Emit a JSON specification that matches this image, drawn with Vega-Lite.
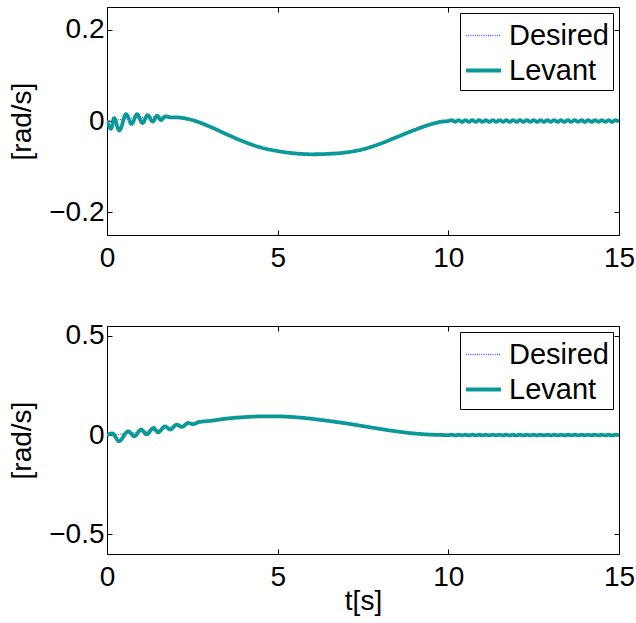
{
  "$schema": "https://vega.github.io/schema/vega-lite/v6.json",
  "background": "white",
  "padding": {"left": 8, "top": 6, "right": 2, "bottom": 2},
  "spacing": 48,
  "config": {
    "font": "Liberation Sans",
    "view": {"stroke": "black", "strokeWidth": 1},
    "axis": {"labelFontSize": 28, "titleFontSize": 28, "titleFontWeight": "normal", "labelColor": "black", "titleColor": "black", "domain": false, "grid": false, "tickColor": "black", "tickSize": -5, "tickWidth": 1, "labelFlush": false, "labelOverlap": false, "format": "~g"},
    "axisX": {"labelPadding": 14, "titlePadding": -4},
    "axisY": {"labelPadding": 8, "titlePadding": 12},
    "legend": {"orient": "none", "legendX": 353, "legendY": 6, "strokeColor": "black", "fillColor": "white", "padding": 4, "labelFontSize": 29, "labelColor": "black", "labelOffset": 6, "rowPadding": 0, "symbolSize": 1225, "symbolType": "stroke", "cornerRadius": 0, "labelLimit": 300}
  },
  "datasets": {
    "top": [
      {"t": 0, "v": 0, "s": "Desired"}, {"t": 0.5, "v": 0.004, "s": "Desired"}, {"t": 1, "v": 0.007, "s": "Desired"}, {"t": 1.5, "v": 0.009, "s": "Desired"}, {"t": 2, "v": 0.008, "s": "Desired"}, {"t": 2.5, "v": 0.002, "s": "Desired"}, {"t": 3, "v": -0.012, "s": "Desired"}, {"t": 3.5, "v": -0.029, "s": "Desired"}, {"t": 4, "v": -0.045, "s": "Desired"}, {"t": 4.5, "v": -0.058, "s": "Desired"}, {"t": 5, "v": -0.066, "s": "Desired"}, {"t": 5.5, "v": -0.071, "s": "Desired"}, {"t": 6, "v": -0.073, "s": "Desired"}, {"t": 6.5, "v": -0.072, "s": "Desired"}, {"t": 7, "v": -0.069, "s": "Desired"}, {"t": 7.5, "v": -0.062, "s": "Desired"}, {"t": 8, "v": -0.05, "s": "Desired"}, {"t": 8.5, "v": -0.035, "s": "Desired"}, {"t": 9, "v": -0.02, "s": "Desired"}, {"t": 9.5, "v": -0.007, "s": "Desired"}, {"t": 10, "v": 0, "s": "Desired"}, {"t": 15, "v": 0, "s": "Desired"},
      {"t": 0, "v": 0, "s": "Levant"}, {"t": 0.12, "v": -0.017, "s": "Levant"}, {"t": 0.21, "v": 0.0065, "s": "Levant"}, {"t": 0.36, "v": -0.021, "s": "Levant"}, {"t": 0.56, "v": 0.015, "s": "Levant"}, {"t": 0.72, "v": -0.0065, "s": "Levant"}, {"t": 0.88, "v": 0.015, "s": "Levant"}, {"t": 1.04, "v": -0.0045, "s": "Levant"}, {"t": 1.19, "v": 0.013, "s": "Levant"}, {"t": 1.34, "v": -0.0015, "s": "Levant"}, {"t": 1.47, "v": 0.0116, "s": "Levant"}, {"t": 1.58, "v": 0.002, "s": "Levant"}, {"t": 1.71, "v": 0.01, "s": "Levant"}, {"t": 1.875, "v": 0.008, "s": "Levant"}, {"t": 2, "v": 0.008, "s": "Levant"}, {"t": 2.5, "v": 0.002, "s": "Levant"}, {"t": 3, "v": -0.012, "s": "Levant"}, {"t": 3.5, "v": -0.029, "s": "Levant"}, {"t": 4, "v": -0.045, "s": "Levant"}, {"t": 4.5, "v": -0.058, "s": "Levant"}, {"t": 5, "v": -0.066, "s": "Levant"}, {"t": 5.5, "v": -0.071, "s": "Levant"}, {"t": 6, "v": -0.073, "s": "Levant"}, {"t": 6.5, "v": -0.072, "s": "Levant"}, {"t": 7, "v": -0.069, "s": "Levant"}, {"t": 7.5, "v": -0.062, "s": "Levant"}, {"t": 8, "v": -0.05, "s": "Levant"}, {"t": 8.5, "v": -0.035, "s": "Levant"}, {"t": 9, "v": -0.02, "s": "Levant"}, {"t": 9.5, "v": -0.007, "s": "Levant"}, {"t": 9.8, "v": -0.0015, "s": "Levant"}, {"t": 10, "v": 0, "s": "Levant"},
      {"t": 10.1, "v": 0.0018, "s": "Levant"}, {"t": 10.2, "v": -0.0018, "s": "Levant"}, {"t": 10.3, "v": 0.0018, "s": "Levant"}, {"t": 10.4, "v": -0.0018, "s": "Levant"}, {"t": 10.5, "v": 0.0018, "s": "Levant"}, {"t": 10.6, "v": -0.0018, "s": "Levant"}, {"t": 10.7, "v": 0.0018, "s": "Levant"}, {"t": 10.8, "v": -0.0018, "s": "Levant"}, {"t": 10.9, "v": 0.0018, "s": "Levant"}, {"t": 11.0, "v": -0.0018, "s": "Levant"},
      {"t": 11.1, "v": 0.0018, "s": "Levant"}, {"t": 11.2, "v": -0.0018, "s": "Levant"}, {"t": 11.3, "v": 0.0018, "s": "Levant"}, {"t": 11.4, "v": -0.0018, "s": "Levant"}, {"t": 11.5, "v": 0.0018, "s": "Levant"}, {"t": 11.6, "v": -0.0018, "s": "Levant"}, {"t": 11.7, "v": 0.0018, "s": "Levant"}, {"t": 11.8, "v": -0.0018, "s": "Levant"}, {"t": 11.9, "v": 0.0018, "s": "Levant"}, {"t": 12.0, "v": -0.0018, "s": "Levant"},
      {"t": 12.1, "v": 0.0018, "s": "Levant"}, {"t": 12.2, "v": -0.0018, "s": "Levant"}, {"t": 12.3, "v": 0.0018, "s": "Levant"}, {"t": 12.4, "v": -0.0018, "s": "Levant"}, {"t": 12.5, "v": 0.0018, "s": "Levant"}, {"t": 12.6, "v": -0.0018, "s": "Levant"}, {"t": 12.7, "v": 0.0018, "s": "Levant"}, {"t": 12.8, "v": -0.0018, "s": "Levant"}, {"t": 12.9, "v": 0.0018, "s": "Levant"}, {"t": 13.0, "v": -0.0018, "s": "Levant"},
      {"t": 13.1, "v": 0.0018, "s": "Levant"}, {"t": 13.2, "v": -0.0018, "s": "Levant"}, {"t": 13.3, "v": 0.0018, "s": "Levant"}, {"t": 13.4, "v": -0.0018, "s": "Levant"}, {"t": 13.5, "v": 0.0018, "s": "Levant"}, {"t": 13.6, "v": -0.0018, "s": "Levant"}, {"t": 13.7, "v": 0.0018, "s": "Levant"}, {"t": 13.8, "v": -0.0018, "s": "Levant"}, {"t": 13.9, "v": 0.0018, "s": "Levant"}, {"t": 14.0, "v": -0.0018, "s": "Levant"},
      {"t": 14.1, "v": 0.0018, "s": "Levant"}, {"t": 14.2, "v": -0.0018, "s": "Levant"}, {"t": 14.3, "v": 0.0018, "s": "Levant"}, {"t": 14.4, "v": -0.0018, "s": "Levant"}, {"t": 14.5, "v": 0.0018, "s": "Levant"}, {"t": 14.6, "v": -0.0018, "s": "Levant"}, {"t": 14.7, "v": 0.0018, "s": "Levant"}, {"t": 14.8, "v": -0.0018, "s": "Levant"}, {"t": 14.9, "v": 0.0018, "s": "Levant"}, {"t": 15.0, "v": -0.0018, "s": "Levant"}
    ],
    "bot": [
      {"t": 0, "v": 0, "s": "Desired"}, {"t": 0.5, "v": 0.006, "s": "Desired"}, {"t": 1, "v": 0.016, "s": "Desired"}, {"t": 1.5, "v": 0.026, "s": "Desired"}, {"t": 2, "v": 0.043, "s": "Desired"}, {"t": 2.5, "v": 0.058, "s": "Desired"}, {"t": 3, "v": 0.071, "s": "Desired"}, {"t": 3.5, "v": 0.083, "s": "Desired"}, {"t": 4, "v": 0.09, "s": "Desired"}, {"t": 4.5, "v": 0.094, "s": "Desired"}, {"t": 5, "v": 0.094, "s": "Desired"}, {"t": 5.5, "v": 0.09, "s": "Desired"}, {"t": 6, "v": 0.082, "s": "Desired"}, {"t": 6.5, "v": 0.071, "s": "Desired"}, {"t": 7, "v": 0.059, "s": "Desired"}, {"t": 7.5, "v": 0.045, "s": "Desired"}, {"t": 8, "v": 0.031, "s": "Desired"}, {"t": 8.5, "v": 0.018, "s": "Desired"}, {"t": 9, "v": 0.008, "s": "Desired"}, {"t": 9.5, "v": 0.002, "s": "Desired"}, {"t": 10, "v": 0, "s": "Desired"}, {"t": 15, "v": 0, "s": "Desired"},
      {"t": 0, "v": 0, "s": "Levant"}, {"t": 0.16, "v": 0.008, "s": "Levant"}, {"t": 0.35, "v": -0.031, "s": "Levant"}, {"t": 0.62, "v": 0.019, "s": "Levant"}, {"t": 0.8, "v": -0.006, "s": "Levant"}, {"t": 1.0, "v": 0.028, "s": "Levant"}, {"t": 1.16, "v": 0.003, "s": "Levant"}, {"t": 1.36, "v": 0.036, "s": "Levant"}, {"t": 1.5, "v": 0.014, "s": "Levant"}, {"t": 1.7, "v": 0.044, "s": "Levant"}, {"t": 1.85, "v": 0.028, "s": "Levant"}, {"t": 2.04, "v": 0.053, "s": "Levant"}, {"t": 2.19, "v": 0.041, "s": "Levant"}, {"t": 2.38, "v": 0.061, "s": "Levant"}, {"t": 2.52, "v": 0.055, "s": "Levant"}, {"t": 2.7, "v": 0.066, "s": "Levant"}, {"t": 3, "v": 0.071, "s": "Levant"}, {"t": 3.5, "v": 0.083, "s": "Levant"}, {"t": 4, "v": 0.09, "s": "Levant"}, {"t": 4.5, "v": 0.094, "s": "Levant"}, {"t": 5, "v": 0.094, "s": "Levant"}, {"t": 5.5, "v": 0.09, "s": "Levant"}, {"t": 6, "v": 0.082, "s": "Levant"}, {"t": 6.5, "v": 0.071, "s": "Levant"}, {"t": 7, "v": 0.059, "s": "Levant"}, {"t": 7.5, "v": 0.045, "s": "Levant"}, {"t": 8, "v": 0.031, "s": "Levant"}, {"t": 8.5, "v": 0.018, "s": "Levant"}, {"t": 9, "v": 0.008, "s": "Levant"}, {"t": 9.5, "v": 0.002, "s": "Levant"}, {"t": 10, "v": 0, "s": "Levant"},
      {"t": 10.1, "v": 0.0015, "s": "Levant"}, {"t": 10.2, "v": -0.0015, "s": "Levant"}, {"t": 10.3, "v": 0.0015, "s": "Levant"}, {"t": 10.4, "v": -0.0015, "s": "Levant"}, {"t": 10.5, "v": 0.0015, "s": "Levant"}, {"t": 10.6, "v": -0.0015, "s": "Levant"}, {"t": 10.7, "v": 0.0015, "s": "Levant"}, {"t": 10.8, "v": -0.0015, "s": "Levant"}, {"t": 10.9, "v": 0.0015, "s": "Levant"}, {"t": 11.0, "v": -0.0015, "s": "Levant"},
      {"t": 11.1, "v": 0.0015, "s": "Levant"}, {"t": 11.2, "v": -0.0015, "s": "Levant"}, {"t": 11.3, "v": 0.0015, "s": "Levant"}, {"t": 11.4, "v": -0.0015, "s": "Levant"}, {"t": 11.5, "v": 0.0015, "s": "Levant"}, {"t": 11.6, "v": -0.0015, "s": "Levant"}, {"t": 11.7, "v": 0.0015, "s": "Levant"}, {"t": 11.8, "v": -0.0015, "s": "Levant"}, {"t": 11.9, "v": 0.0015, "s": "Levant"}, {"t": 12.0, "v": -0.0015, "s": "Levant"},
      {"t": 12.1, "v": 0.0015, "s": "Levant"}, {"t": 12.2, "v": -0.0015, "s": "Levant"}, {"t": 12.3, "v": 0.0015, "s": "Levant"}, {"t": 12.4, "v": -0.0015, "s": "Levant"}, {"t": 12.5, "v": 0.0015, "s": "Levant"}, {"t": 12.6, "v": -0.0015, "s": "Levant"}, {"t": 12.7, "v": 0.0015, "s": "Levant"}, {"t": 12.8, "v": -0.0015, "s": "Levant"}, {"t": 12.9, "v": 0.0015, "s": "Levant"}, {"t": 13.0, "v": -0.0015, "s": "Levant"},
      {"t": 13.1, "v": 0.0015, "s": "Levant"}, {"t": 13.2, "v": -0.0015, "s": "Levant"}, {"t": 13.3, "v": 0.0015, "s": "Levant"}, {"t": 13.4, "v": -0.0015, "s": "Levant"}, {"t": 13.5, "v": 0.0015, "s": "Levant"}, {"t": 13.6, "v": -0.0015, "s": "Levant"}, {"t": 13.7, "v": 0.0015, "s": "Levant"}, {"t": 13.8, "v": -0.0015, "s": "Levant"}, {"t": 13.9, "v": 0.0015, "s": "Levant"}, {"t": 14.0, "v": -0.0015, "s": "Levant"},
      {"t": 14.1, "v": 0.0015, "s": "Levant"}, {"t": 14.2, "v": -0.0015, "s": "Levant"}, {"t": 14.3, "v": 0.0015, "s": "Levant"}, {"t": 14.4, "v": -0.0015, "s": "Levant"}, {"t": 14.5, "v": 0.0015, "s": "Levant"}, {"t": 14.6, "v": -0.0015, "s": "Levant"}, {"t": 14.7, "v": 0.0015, "s": "Levant"}, {"t": 14.8, "v": -0.0015, "s": "Levant"}, {"t": 14.9, "v": 0.0015, "s": "Levant"}, {"t": 15.0, "v": -0.0015, "s": "Levant"}
    ]
  },
  "resolve": {
    "scale": {"color": "independent", "strokeDash": "independent", "strokeWidth": "independent"},
    "legend": {"color": "independent", "strokeDash": "independent", "strokeWidth": "independent"}
  },
  "vconcat": [
    {
      "width": 512,
      "height": 228,
      "data": {"name": "top"},
      "resolve": {"axis": {"x": "independent", "y": "independent"}},
      "layer": [
        {
          "mark": {"type": "line", "clip": true, "interpolate": "monotone"},
          "encoding": {
            "x": {"field": "t", "type": "quantitative", "scale": {"domain": [0, 15], "nice": false}, "axis": {"values": [0, 5, 10, 15], "title": null}},
            "y": {"field": "v", "type": "quantitative", "scale": {"domain": [-0.25, 0.25], "nice": false, "zero": false}, "axis": {"values": [-0.2, 0, 0.2], "title": "[rad/s]"}},
            "color": {"field": "s", "type": "nominal", "scale": {"domain": ["Desired", "Levant"], "range": ["#5a5aff", "#0a9996"]}, "legend": {"title": null}},
            "strokeDash": {"field": "s", "type": "nominal", "scale": {"domain": ["Desired", "Levant"], "range": [[1, 1.2], [1, 0]]}, "legend": {"title": null}},
            "strokeWidth": {"field": "s", "type": "nominal", "scale": {"domain": ["Desired", "Levant"], "range": [1.3, 3.8]}, "legend": {"title": null}}
          }
        },
        {
          "mark": {"type": "point", "opacity": 0},
          "encoding": {
            "x": {"field": "t", "type": "quantitative", "axis": {"orient": "top", "values": [0, 5, 10, 15], "labels": false, "title": null}},
            "y": {"field": "v", "type": "quantitative", "axis": {"orient": "right", "values": [-0.2, 0, 0.2], "labels": false, "title": null}}
          }
        }
      ]
    },
    {
      "width": 512,
      "height": 228,
      "data": {"name": "bot"},
      "resolve": {"axis": {"x": "independent", "y": "independent"}},
      "layer": [
        {
          "mark": {"type": "line", "clip": true, "interpolate": "monotone"},
          "encoding": {
            "x": {"field": "t", "type": "quantitative", "scale": {"domain": [0, 15], "nice": false}, "axis": {"values": [0, 5, 10, 15], "title": "t[s]"}},
            "y": {"field": "v", "type": "quantitative", "scale": {"domain": [-0.6, 0.55], "nice": false, "zero": false}, "axis": {"values": [-0.5, 0, 0.5], "title": "[rad/s]"}},
            "color": {"field": "s", "type": "nominal", "scale": {"domain": ["Desired", "Levant"], "range": ["#5a5aff", "#0a9996"]}, "legend": {"title": null}},
            "strokeDash": {"field": "s", "type": "nominal", "scale": {"domain": ["Desired", "Levant"], "range": [[1, 1.2], [1, 0]]}, "legend": {"title": null}},
            "strokeWidth": {"field": "s", "type": "nominal", "scale": {"domain": ["Desired", "Levant"], "range": [1.3, 3.8]}, "legend": {"title": null}}
          }
        },
        {
          "mark": {"type": "point", "opacity": 0},
          "encoding": {
            "x": {"field": "t", "type": "quantitative", "axis": {"orient": "top", "values": [0, 5, 10, 15], "labels": false, "title": null}},
            "y": {"field": "v", "type": "quantitative", "axis": {"orient": "right", "values": [-0.5, 0, 0.5], "labels": false, "title": null}}
          }
        }
      ]
    }
  ]
}
